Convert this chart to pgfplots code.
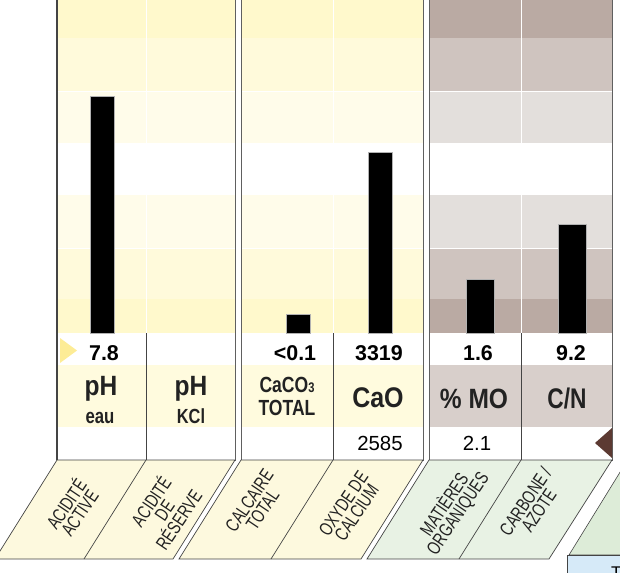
\documentclass[border=0pt]{standalone}
\usepackage{pgfplots}
\pgfplotsset{compat=1.18}
\usepackage{fontspec}
\setmainfont{Liberation Sans}
\newfontfamily\cond[FakeStretch=0.88]{Liberation Sans}
\newfontfamily\condn[FakeStretch=0.8]{Liberation Sans}
\newfontfamily\lab[FakeStretch=0.74]{Liberation Sans}
\newcommand\fs[1]{\fontsize{#1}{#1}\selectfont}
\definecolor{yA}{RGB}{255,249,204}
\definecolor{yB}{RGB}{255,250,219}
\definecolor{yC}{RGB}{255,252,234}
\definecolor{yN}{RGB}{255,251,222}
\definecolor{bA}{RGB}{186,170,163}
\definecolor{bB}{RGB}{207,196,191}
\definecolor{bC}{RGB}{227,223,220}
\definecolor{bN}{RGB}{216,207,203}
\definecolor{pY}{RGB}{253,249,222}
\definecolor{pG}{RGB}{232,242,228}
\definecolor{pG2}{RGB}{221,236,216}
\definecolor{pBl}{RGB}{214,234,248}
\definecolor{triY}{RGB}{253,236,150}
\definecolor{triB}{RGB}{92,58,50}
\definecolor{ink}{RGB}{34,34,34}
\definecolor{edge}{RGB}{68,68,68}
\newcommand\bands[5]{%
  \fill[#3] (#1,-2) rectangle (#2,38);
  \fill[#4] (#1,38) rectangle (#2,91);
  \fill[#5] (#1,91) rectangle (#2,143);
  \fill[white] (#1,143) rectangle (#2,195);
  \fill[#5] (#1,195) rectangle (#2,248);
  \fill[#4] (#1,248) rectangle (#2,299);
  \fill[#3] (#1,299) rectangle (#2,333);
  \draw[white, line width=0.8] (#1,91) -- (#2,91) (#1,248) -- (#2,248);
}
\begin{document}
\begin{tikzpicture}
\path[use as bounding box, clip] (0,0) rectangle (620bp,-573bp);
\begin{scope}[x=1bp,y=-1bp]
  % bar zone bands
  \bands{57}{235}{yA}{yB}{yC}
  \bands{241}{423}{yA}{yB}{yC}
  \bands{429}{612}{bA}{bB}{bC}
  % white thin dividers in bar zone
  \foreach \xx in {146,333,521} \draw[white, line width=0.8] (\xx,-2) -- (\xx,333);
  % name rows
  \fill[yN] (57,365) rectangle (235,427);
  \fill[yN] (241,365) rectangle (423,427);
  \fill[bN] (429,365) rectangle (612,427);
  % table dividers
  \foreach \xx in {146,333,521} \draw[edge, line width=0.7] (\xx,333) -- (\xx,460);
  % group borders
  \draw[gray!75!black, line width=1] (57,-5) -- (57,460) -- (235,460) -- (235,-5);
  \draw[gray!75!black, line width=1] (241,-5) -- (241,460) -- (423,460) -- (423,-5);
  \draw[gray!75!black, line width=1] (429,-5) -- (429,460) -- (612,460) -- (612,-5);
  \draw[edge, line width=1.1] (57,-5) -- (57,460);
\end{scope}

\begin{axis}[at={(0bp,-333bp)}, anchor=south west, scale only axis,
  width=620bp, height=333bp, xmin=0, xmax=620, ymin=0, ymax=333,
  hide axis, clip=false, ybar]
  \addplot[fill=black, draw=gray!60, line width=0.6, bar width=24, bar shift=0pt]
    coordinates {(102,237) (298,19) (380,181)};
  \addplot[fill=black, draw=gray!60, line width=0.6, bar width=28, bar shift=0pt]
    coordinates {(480,54) (572,109)};
\end{axis}

\begin{scope}[x=1bp,y=-1bp]
  % markers
  \fill[triY] (60,338) -- (77,350.5) -- (60,363) -- cycle;
  \fill[triB] (595,443) -- (612,428) -- (612,458) -- cycle;
  % values
  \begin{scope}[every node/.style={anchor=base, inner sep=0pt, font=\bfseries\fs{21.5}}]
    \node at (104,360) {7.8};
    \node at (295,360) {<0.1};
    \node at (379,360) {3319};
    \node at (478,360) {1.6};
    \node at (571,360) {9.2};
  \end{scope}
  % names
  \begin{scope}[every node/.style={anchor=base, inner sep=0pt, text=ink}]
    \node[font=\cond\bfseries\fs{28}] at (101,395) {pH};
    \node[font=\condn\bfseries\fs{21}] at (100,423) {eau};
    \node[font=\cond\bfseries\fs{28}] at (191,395) {pH};
    \node[font=\condn\bfseries\fs{20.5}] at (191,423) {KCl};
    \node[font=\condn\bfseries\fs{22}] at (287,392) {CaCO\raisebox{-0.8pt}{\fs{14}3}};
    \node[font=\condn\bfseries\fs{22}] at (287,415) {TOTAL};
    \node[font=\cond\bfseries\fs{28.5}] at (378,407) {CaO};
    \node[font=\cond\bfseries\fs{28}] at (474,408) {\% MO};
    \node[font=\condn\bfseries\fs{28.5}] at (567,408) {C/N};
    \node[font=\fs{20.5}, text=black] at (380,450) {2585};
    \node[font=\fs{20.5}, text=black] at (477,450) {2.1};
  \end{scope}
  % slanted label panels
  \filldraw[fill=pY, draw=edge, line width=0.7] (57,460) -- (235,460) -- (173,559) -- (-5,559) -- cycle;
  \draw[edge, line width=0.7] (146,460) -- (84,559);
  \filldraw[fill=pY, draw=edge, line width=0.7] (241,460) -- (423,460) -- (361,559) -- (179,559) -- cycle;
  \draw[edge, line width=0.7] (333,460) -- (271,559);
  \filldraw[fill=pG, draw=edge, line width=0.7] (429,460) -- (612,460) -- (549,559) -- (367,559) -- cycle;
  \draw[edge, line width=0.7] (521,460) -- (459,559);
  % pieces of the next block
  \filldraw[fill=pG2, draw=edge, line width=0.6] (622,469) -- (569,555) -- (622,555) -- cycle;
  \fill[pBl] (567,555) rectangle (625,580);
  \draw[edge, line width=0.8] (567,580) -- (567,555) -- (625,555);
  \node[anchor=base west, inner sep=0pt, font=\fs{17}] at (611,578) {T};
  % slanted labels
  \begin{scope}[every node/.style={rotate=56, align=center, inner sep=0pt, text=ink, font=\lab\fontsize{19}{16}\selectfont}]
    \node at (72,508) {ACIDITÉ\\ACTIVE};
    \node at (164,510) {ACIDITÉ\\DE\\RÉSERVE};
    \node at (256,505) {CALCAIRE\\TOTAL};
    \node at (350,508) {OXYDE DE\\CALCIUM};
    \node at (451,509) {MATIÈRES\\ORGANIQUES};
    \node at (532,506) {CARBONE /\\AZOTE};
  \end{scope}
\end{scope}
\end{tikzpicture}
\end{document}
